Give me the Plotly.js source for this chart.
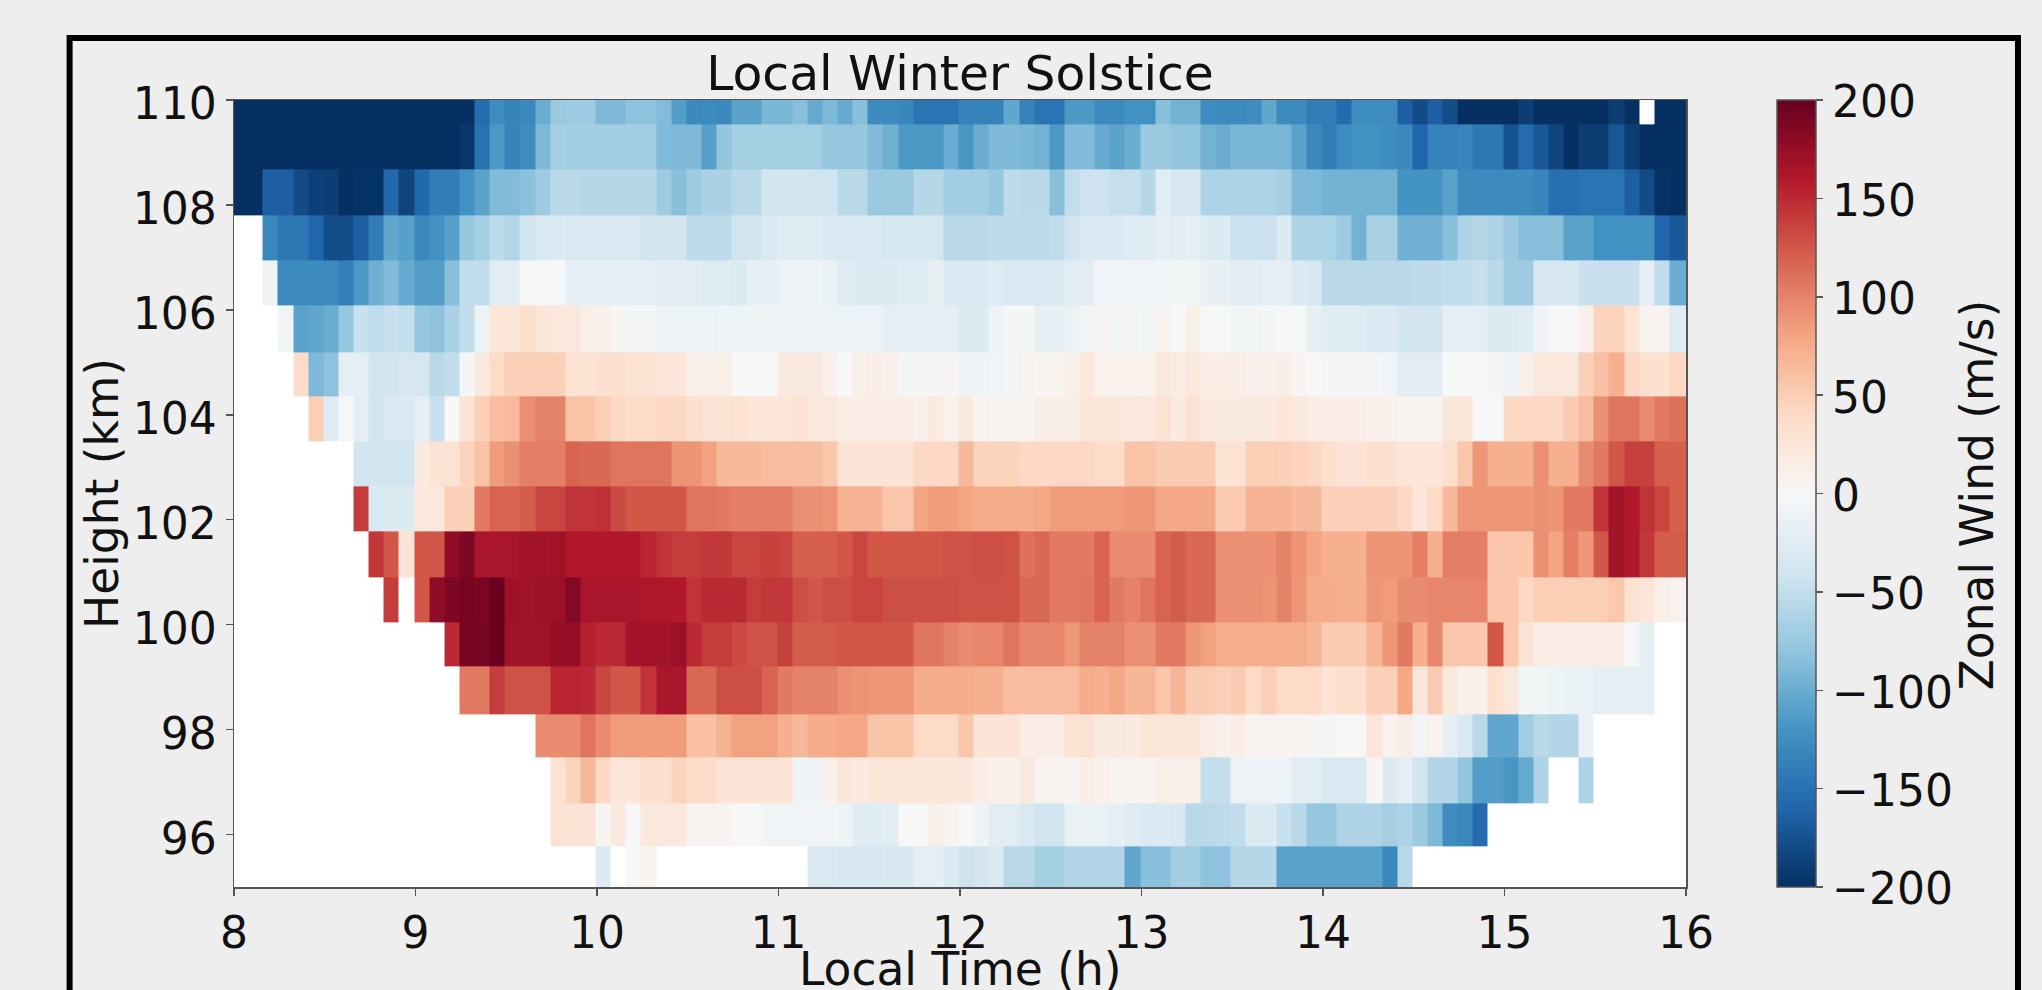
<!DOCTYPE html>
<html>
<head>
<meta charset="utf-8">
<script src="https://cdn.plot.ly/plotly-3.0.1.min.js"></script>
<style>html,body{margin:0;padding:0;background:#eeeeee;overflow:hidden}</style>
</head>
<body>
<div id="chart" style="width:2042px;height:990px"></div>
<script>
const n = null;
const chartTitle = "Local Winter Solstice";
const xLabel = "Local Time (h)";
const yLabel = "Height (km)";
const barLabel = "Zonal Wind (m/s)";
const xTicks = [8,9,10,11,12,13,14,15,16];
const yTicks = [96,98,100,102,104,106,108,110];
const barTicks = [-200,-150,-100,-50,0,50,100,150,200];
// row boundaries in km, top to bottom
const heightEdges = [110.47,109.53,108.67,107.8,106.94,106.08,105.2,104.36,103.5,102.63,101.77,100.9,100.04,99.2,98.3,97.48,96.6,95.77,94.9];
// one row per height, top to bottom; one column per 5 minutes from 08:00
const r00 = [-205,-205,-205,-205,-205,-205,-205,-205,-205,-205,-205,-205,
 -205,-205,-205,-205,-155,-125,-135,-130,-100,-75,-72,-72,
 -90,-90,-82,-82,-88,-112,-130,-128,-130,-108,-108,-92,
 -92,-85,-102,-90,-102,-85,-128,-128,-132,-148,-148,-148,
 -135,-135,-135,-105,-135,-148,-148,-115,-115,-128,-128,-122,
 -122,-85,-95,-95,-125,-128,-128,-125,-105,-128,-128,-140,
 -140,-155,-125,-125,-125,-165,-180,-165,-178,-200,-200,-205,
 -205,-190,-200,-200,-205,-205,-205,-190,-200,n,-205,-205];
const r01 = [-205,-205,-205,-205,-205,-205,-205,-205,-205,-205,-205,-205,
 -205,-205,-205,-195,-150,-115,-135,-125,-90,-68,-70,-70,
 -70,-70,-70,-70,-88,-90,-90,-110,-80,-68,-68,-68,
 -68,-68,-68,-78,-78,-78,-88,-98,-115,-115,-115,-100,
 -118,-100,-90,-90,-92,-95,-115,-88,-88,-102,-108,-100,
 -75,-75,-80,-80,-95,-100,-92,-92,-92,-92,-108,-130,
 -140,-125,-122,-122,-125,-130,-160,-135,-135,-133,-145,-145,
 -175,-155,-170,-185,-200,-190,-190,-172,-190,-205,-205,-205];
const r02 = [-205,-205,-165,-165,-180,-188,-190,-203,-198,-198,-158,-185,
 -158,-140,-140,-122,-108,-88,-88,-83,-72,-55,-55,-58,
 -58,-58,-58,-58,-72,-85,-72,-65,-65,-55,-55,-38,
 -38,-38,-40,-40,-55,-55,-75,-75,-75,-58,-58,-70,
 -70,-70,-78,-52,-55,-55,-85,-50,-42,-42,-47,-47,
 -58,-22,-35,-35,-62,-62,-62,-62,-62,-68,-90,-90,
 -95,-95,-95,-95,-95,-120,-120,-120,-108,-128,-128,-128,
 -128,-128,-132,-152,-152,-148,-148,-148,-165,-180,-198,-205];
const r03 = [n,n,-130,-145,-145,-160,-178,-178,-165,-140,-105,-110,
 -130,-122,-110,-78,-68,-52,-60,-38,-32,-28,-32,-32,
 -32,-32,-32,-38,-38,-38,-52,-52,-52,-40,-40,-30,
 -24,-24,-24,-32,-32,-32,-32,-36,-36,-36,-36,-55,
 -55,-55,-52,-52,-52,-52,-50,-40,-30,-30,-30,-25,
 -25,-20,-22,-20,-28,-28,-44,-44,-44,-30,-63,-63,
 -63,-72,-95,-66,-66,-97,-97,-97,-85,-62,-58,-62,
 -75,-85,-85,-85,-108,-108,-122,-122,-122,-122,-160,-170];
const r04 = [n,n,-8,-128,-128,-128,-128,-138,-115,-98,-88,-102,
 -112,-112,-85,-50,-50,-22,-22,-2,-2,-2,-20,-20,
 -18,-18,-20,-20,-22,-22,-22,-26,-26,-28,-18,-18,
 -12,-12,-12,-14,-26,-28,-28,-28,-25,-25,-15,-30,
 -30,-30,-27,-32,-32,-32,-32,-22,-22,-7,-7,-7,
 -7,-5,-5,-5,-15,-15,-22,-22,-20,-20,-28,-35,
 -55,-55,-55,-55,-55,-55,-52,-52,-50,-50,-45,-55,
 -72,-72,-35,-35,-35,-45,-45,-45,-45,-20,-50,-100];
const r05 = [n,n,n,-6,-108,-105,-100,-78,-45,-52,-45,-48,
 -78,-82,-65,-50,-12,25,25,35,25,22,22,12,
 10,3,-3,-3,-12,-12,-12,-12,-10,-10,-10,-10,
 -10,-10,-10,-12,-12,-12,-12,-20,-20,-20,-20,-20,
 -28,-28,-12,-3,-3,-18,-18,-13,-5,3,-3,-3,
 -5,6,0,12,-1,-1,-5,-5,-3,0,-1,-18,
 -25,-25,-25,-30,-30,-38,-38,-38,-20,-20,-20,-28,
 -28,-25,-8,0,0,10,45,45,28,6,6,-25];
const r06 = [n,n,n,n,38,-90,-82,-20,-20,-40,-40,-35,
 -35,-55,-50,-3,20,40,48,48,48,48,30,30,
 33,33,30,30,25,25,12,12,12,-1,-1,-1,
 20,20,20,10,0,12,15,10,-3,-3,3,3,
 -8,-8,-6,-4,6,4,4,12,22,9,9,9,
 9,20,17,22,15,15,15,10,10,14,5,0,
 -4,-4,-4,-4,-6,-22,-22,-22,-1,0,-2,-3,
 -8,12,22,22,22,48,60,72,42,32,32,42];
const r07 = [n,n,n,n,n,50,-25,-2,-20,-38,-30,-30,
 -20,-45,0,28,50,62,65,92,100,100,58,58,
 50,42,38,38,42,42,35,28,28,30,25,25,
 25,30,22,22,15,15,15,15,15,10,20,7,
 18,6,4,4,4,13,13,13,24,24,24,20,
 22,30,18,30,18,18,18,18,18,25,22,14,
 15,15,15,10,10,4,4,4,24,24,0,0,
 42,42,42,42,52,62,92,108,108,95,105,110];
const r08 = [n,n,n,n,n,n,n,n,-38,-38,-38,-38,
 18,28,30,45,58,85,92,102,102,102,118,115,
 115,108,108,108,108,90,90,82,65,65,65,62,
 62,62,62,55,28,28,28,28,28,42,42,42,
 65,45,45,45,42,42,42,42,42,38,38,58,
 58,52,52,52,52,30,30,50,50,48,45,42,
 35,27,27,32,32,25,25,25,35,55,88,72,
 72,72,92,72,72,95,105,125,138,138,120,120];
const r09 = [n,n,n,n,n,n,n,n,140,-32,-28,-28,
 22,22,48,48,105,118,118,122,135,135,145,145,
 146,132,125,125,125,125,108,108,105,102,102,102,
 102,92,92,90,70,70,70,55,55,80,85,85,
 80,75,75,75,75,78,85,85,85,85,85,88,
 88,78,78,78,78,52,52,70,70,70,65,65,
 48,48,48,48,48,42,25,40,65,88,88,88,
 88,88,92,90,105,105,145,168,160,145,135,120];
const r10 = [n,n,n,n,n,n,n,n,n,142,125,28,
 125,125,178,188,165,165,165,168,168,170,160,160,
 160,160,160,152,145,140,140,142,142,135,135,138,
 135,120,120,120,125,135,125,125,125,125,125,128,
 128,130,130,128,110,115,105,105,105,118,95,95,
 95,118,122,115,115,92,92,92,92,100,90,80,
 72,72,72,90,90,90,102,72,102,102,102,55,
 55,55,92,80,102,88,125,168,160,142,122,122];
const r11 = [n,n,n,n,n,n,n,n,n,n,140,n,
 125,178,188,192,190,198,172,168,172,172,185,165,
 165,165,165,162,162,160,145,150,150,150,140,142,
 142,130,125,130,130,135,135,130,130,130,130,130,
 128,128,128,128,115,115,105,105,108,118,105,100,
 108,118,122,115,115,92,92,92,90,100,88,75,
 75,72,72,88,85,95,95,98,98,98,98,55,
 55,42,50,50,50,50,50,55,32,25,12,8];
const r12 = [n,n,n,n,n,n,n,n,n,n,n,n,
 n,n,150,192,192,198,170,170,170,176,176,155,
 150,150,168,168,168,172,150,140,140,132,128,128,
 138,122,122,122,125,125,125,125,125,108,108,100,
 95,98,98,108,98,98,98,88,100,100,100,92,
 92,105,105,88,82,74,74,74,74,74,74,68,
 52,52,52,68,88,105,72,98,55,55,55,125,
 55,28,16,16,14,14,14,14,-2,-18,n,n];
const r13 = [n,n,n,n,n,n,n,n,n,n,n,n,
 n,n,n,105,105,140,128,128,128,152,152,150,
 135,125,125,145,165,165,115,115,130,130,130,118,
 105,100,100,100,92,90,88,88,88,75,75,75,
 75,72,72,62,62,62,62,62,75,72,78,68,
 68,55,68,52,52,48,52,40,50,40,40,40,
 28,35,35,48,48,78,25,52,22,10,10,32,
 22,-5,-5,-10,-14,-14,-18,-18,-18,-18,n,n];
const r14 = [n,n,n,n,n,n,n,n,n,n,n,n,
 n,n,n,n,n,n,n,n,95,95,95,108,
 95,85,85,85,85,85,60,60,70,82,82,82,
 72,65,75,75,78,78,58,58,58,40,40,40,
 55,28,28,28,15,16,16,30,30,20,20,18,
 24,24,24,24,16,10,15,6,6,6,6,3,
 -3,2,2,26,6,15,-5,8,-18,-30,-55,-105,
 -105,-70,-55,-60,-60,-14,n,n,n,n,n,n];
const r15 = [n,n,n,n,n,n,n,n,n,n,n,n,
 n,n,n,n,n,n,n,n,n,30,45,65,
 42,25,25,35,35,45,38,38,28,28,28,28,
 28,-10,-10,10,24,18,24,24,24,24,24,24,
 24,14,10,10,20,6,6,6,14,10,6,6,
 6,12,12,12,-48,-48,-12,-12,-12,-12,-22,-22,
 -32,-32,-32,3,-28,-20,-38,-60,-60,-80,-112,-112,
 -118,-102,-62,n,n,-62,n,n,n,n,n,n];
const r16 = [n,n,n,n,n,n,n,n,n,n,n,n,
 n,n,n,n,n,n,n,n,n,30,28,28,
 3,20,0,22,22,22,6,6,6,0,0,-7,
 -7,-7,-7,-7,-10,-25,-25,-22,0,0,12,6,
 0,-8,-22,-22,-32,-40,-40,-14,-14,-14,-20,-26,
 -32,-28,-33,-55,-55,-52,-50,-28,-28,-45,-55,-78,
 -78,-62,-62,-62,-68,-62,-75,-90,-125,-130,-155,n,
 n,n,n,n,n,n,n,n,n,n,n,n];
const r17 = [n,n,n,n,n,n,n,n,n,n,n,n,
 n,n,n,n,n,n,n,n,n,n,n,n,
 -28,n,-1,5,n,n,n,n,n,n,n,n,
 n,n,-32,-32,-35,-35,-35,-33,-33,-20,-20,-30,
 -42,-38,-30,-55,-55,-68,-68,-60,-60,-60,-60,-105,
 -85,-85,-70,-70,-82,-82,-58,-58,-58,-108,-108,-108,
 -108,-108,-108,-108,-130,-55,n,n,n,n,n,n,
 n,n,n,n,n,n,n,n,n,n,n,n];
const windRows = [r00,r01,r02,r03,r04,r05,r06,r07,r08,r09,r10,r11,r12,r13,r14,r15,r16,r17];

// column edges: 5-minute cells, the first edge a little before 08:00
const timeEdges = [];
for (let k = 0; k < 96; k++) timeEdges.push(8 + (k - 0.1) / 12);
timeEdges.push(16);

const rdbu = [
 [0,'#053061'],[0.1,'#2166ac'],[0.2,'#4393c3'],[0.3,'#92c5de'],[0.4,'#d1e5f0'],
 [0.5,'#f7f7f7'],[0.6,'#fddbc7'],[0.7,'#f4a582'],[0.8,'#d6604d'],[0.9,'#b2182b'],[1,'#67001f']];

const font = 'DejaVu Sans, sans-serif';
const ink = '#111111';
const axisLine = '#555555';
const W = 2042, H = 990, L = 233.5, R = 1686.5, T = 100, B = 887;
const pw = R - L, ph = B - T;
const px = v => (v - L) / pw;
const py = v => (B - v) / ph;

const trace = {
  type: 'heatmap', x: timeEdges, y: heightEdges, z: windRows,
  zmin: -200, zmax: 200, colorscale: rdbu, zsmooth: false, hoverongaps: false,
  colorbar: {
    x: px(1777.7), xanchor: 'left', xpad: 0, y: 0, yanchor: 'bottom', ypad: 0,
    len: 1, lenmode: 'fraction', thickness: 39, thicknessmode: 'pixels',
    outlinecolor: axisLine, outlinewidth: 1.5, borderwidth: 0,
    tickmode: 'array', tickvals: barTicks, ticktext: barTicks.map(v => String(v).replace('-', '\u2212')),
    ticks: 'outside', ticklen: 7, tickwidth: 1.5, tickcolor: axisLine,
    tickfont: {family: font, size: 44, color: ink}
  }
};

const layout = {
  width: W, height: H, autosize: false,
  margin: {l: L, r: W - R, t: T, b: H - B, pad: 0},
  paper_bgcolor: '#eeeeee', plot_bgcolor: '#ffffff',
  font: {family: font, color: ink},
  title: {text: chartTitle, font: {family: font, size: 48.8, color: ink},
          x: 0.5, xref: 'paper', xanchor: 'center', y: 1 - 73 / H, yref: 'container', yanchor: 'middle'},
  xaxis: {range: [8, 16], tickmode: 'array', tickvals: xTicks, ticktext: xTicks.map(String),
    ticks: 'outside', ticklen: 7, tickwidth: 1.5, tickcolor: axisLine,
    showline: true, linecolor: axisLine, linewidth: 1.5, mirror: true, showgrid: false, zeroline: false,
    tickfont: {family: font, size: 44, color: ink}},
  yaxis: {range: [95, 110], tickmode: 'array', tickvals: yTicks, ticktext: yTicks.map(String),
    ticks: 'outside', ticklen: 7, tickwidth: 1.5, tickcolor: axisLine,
    ticklabelshift: 4,
    showline: true, linecolor: axisLine, linewidth: 1.5, mirror: true, showgrid: false, zeroline: false,
    tickfont: {family: font, size: 44, color: ink},
    title: {text: yLabel, font: {family: font, size: 45.5, color: ink}, standoff: 0}},
  shapes: [{type: 'rect', xref: 'paper', yref: 'paper', layer: 'below',
    x0: px(69), x1: px(2018.7), y0: -0.3, y1: py(38),
    line: {color: '#000000', width: 6}, fillcolor: 'rgba(0,0,0,0)'}],
  annotations: [
    {text: barLabel, xref: 'paper', yref: 'paper', x: px(1979), y: py(495),
     xanchor: 'center', yanchor: 'middle', textangle: -90, showarrow: false,
     font: {family: font, size: 45.5, color: ink}},
    {text: xLabel, xref: 'paper', yref: 'paper', x: 0.5, y: py(969),
     xanchor: 'center', yanchor: 'middle', showarrow: false,
     font: {family: font, size: 45.5, color: ink}}
  ]
};

Plotly.newPlot('chart', [trace], layout, {displayModeBar: false, staticPlot: true}).then(() => {
  // the colorbar has no label-shift option: nudge its labels down to sit level with their ticks
  document.querySelectorAll('#chart .cbaxis text, #chart .colorbar .ytick text').forEach(t => {
    const y = parseFloat(t.getAttribute('y'));
    if (!isNaN(y)) t.setAttribute('y', y + 2);
  });
});
</script>
</body>
</html>
